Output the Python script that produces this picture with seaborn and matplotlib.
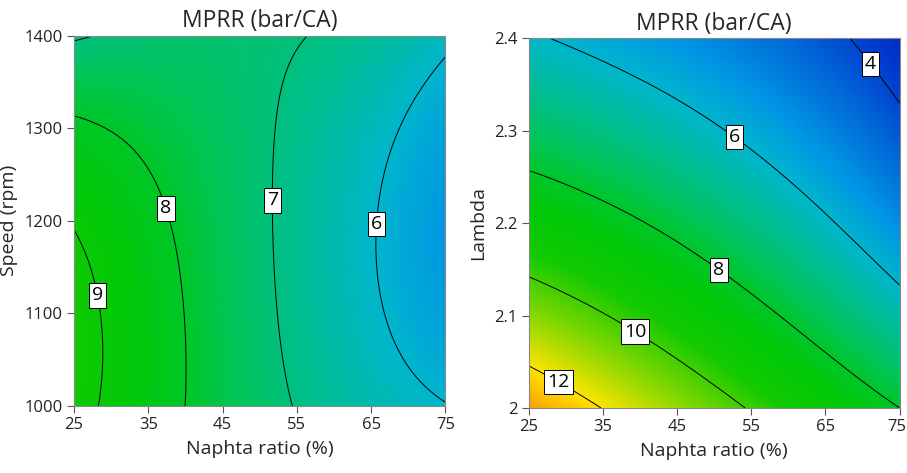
import numpy as np
import matplotlib
matplotlib.use("Agg")
import matplotlib.pyplot as plt
import matplotlib.transforms as mtransforms
import seaborn as sns
from matplotlib.colors import LinearSegmentedColormap

# Fitted MPRR response surfaces in coded factors (-1..1)
# terms: 1, X, S, X*S, X^2, S^2, X^2*S, X*S^2, X^2*S^2
terms = ["1", "X", "S", "XS", "X2", "S2", "X2S", "XS2", "X2S2"]
coef_speed = [7.124, -1.797, -0.071, 0.633, 0.023, 0.082, -0.492, 0.789, -0.121]
coef_lambda = [7.349, -1.875, -2.692, 0.629, -0.285, 0.380, -0.154, -0.022, 0.235]

naphtha_range = [25, 75]
speed_range = [1000, 1400]
lambda_range = [2.0, 2.4]

naphtha_ticks = [25, 35, 45, 55, 65, 75]
speed_ticks = [1000, 1100, 1200, 1300, 1400]
lambda_ticks = [2.0, 2.1, 2.2, 2.3, 2.4]
lambda_ticklabels = ["2", "2.1", "2.2", "2.3", "2.4"]

levels_speed = [6, 7, 8, 9]
levels_lambda = [4, 6, 8, 10, 12]

# contour label anchor points (naphtha, factor)
label_pts_speed = [(28.5, 1120), (38, 1215), (52, 1222), (64.7, 1197)]
label_pts_lambda = [(72, 2.378), (52.5, 2.29), (50.5, 2.148), (39.5, 2.085), (29.5, 2.035)]

title = "MPRR (bar/CA)"
xlabel = "Naphta ratio (%)"


def surface(c, X, S):
    return (c[0] + c[1] * X + c[2] * S + c[3] * X * S + c[4] * X**2 + c[5] * S**2
            + c[6] * X**2 * S + c[7] * X * S**2 + c[8] * X**2 * S**2)


sns.set_style("white")
plt.rcParams["font.family"] = ["Open Sans", "DejaVu Sans"]

# blue -> cyan -> green -> yellow -> orange scale
vmin, vmax = 3.5, 14.0
anchors = [
    (3.5, (0, 40, 200)),
    (4.5, (0, 105, 215)),
    (5.3, (0, 150, 228)),
    (6.0, (0, 182, 205)),
    (7.0, (0, 192, 125)),
    (7.5, (0, 197, 85)),
    (8.0, (0, 198, 40)),
    (8.6, (0, 200, 8)),
    (9.5, (20, 202, 0)),
    (10.7, (130, 215, 0)),
    (12.0, (255, 228, 0)),
    (13.2, (245, 150, 0)),
    (14.0, (230, 100, 0)),
]
cmap = LinearSegmentedColormap.from_list(
    "mprr", [((v - vmin) / (vmax - vmin), tuple(ch / 255 for ch in col)) for v, col in anchors])

fig = plt.figure(figsize=(9.07, 4.73), dpi=100)
ax1 = fig.add_axes([0.0816, 0.1416, 0.4094, 0.783])
ax2 = fig.add_axes([0.5829, 0.1374, 0.4090, 0.7816])

xg = np.linspace(naphtha_range[0], naphtha_range[1], 401)


def draw(ax, coef, yr, levels, label_pts, yticks, yticklabels, ylabel):
    yg = np.linspace(yr[0], yr[1], 401)
    XX, YY = np.meshgrid(xg, yg)
    Xc = (XX - np.mean(naphtha_range)) / (np.diff(naphtha_range)[0] / 2)
    Yc = (YY - np.mean(yr)) / (np.diff(yr)[0] / 2)
    Z = surface(coef, Xc, Yc)
    ax.pcolormesh(XX, YY, Z, cmap=cmap, vmin=vmin, vmax=vmax, shading="gouraud", rasterized=True)
    cs = ax.contour(XX, YY, Z, levels=levels, colors="black", linewidths=0.7)
    labs = ax.clabel(cs, fmt="%d", manual=label_pts, inline=False, fontsize=14)
    for t in labs:
        t.set_rotation(0)
        t.set_bbox(dict(boxstyle="square,pad=0.16", facecolor="white", edgecolor="black", linewidth=0.7))
    ax.set_xlim(naphtha_range)
    ax.set_ylim(yr)
    ax.set_xticks(naphtha_ticks)
    ax.set_yticks(yticks)
    ax.set_yticklabels(yticklabels)
    ax.tick_params(axis="both", which="both", direction="out", length=5, width=0.8,
                   color="#555555", labelsize=12, labelcolor="#222222", pad=3,
                   bottom=True, left=True, top=False, right=False)
    for sp in ax.spines.values():
        sp.set_color("#888888")
        sp.set_linewidth(0.8)
    ax.set_title(title, fontsize=16.5, pad=6)
    ax.set_xlabel(xlabel, fontsize=14, labelpad=5)
    ax.set_ylabel(ylabel, fontsize=14, labelpad=5)


draw(ax1, coef_speed, speed_range, levels_speed, label_pts_speed,
     speed_ticks, [str(v) for v in speed_ticks], "Speed (rpm)")
draw(ax2, coef_lambda, lambda_range, levels_lambda, label_pts_lambda,
     lambda_ticks, lambda_ticklabels, "Lambda")

# keep the last tick label of the right panel inside the figure edge
last = ax2.get_xticklabels()[-1]
last.set_transform(last.get_transform() + mtransforms.ScaledTranslation(-3 / 100, 0, fig.dpi_scale_trans))

fig.savefig("out.png", dpi=100)
